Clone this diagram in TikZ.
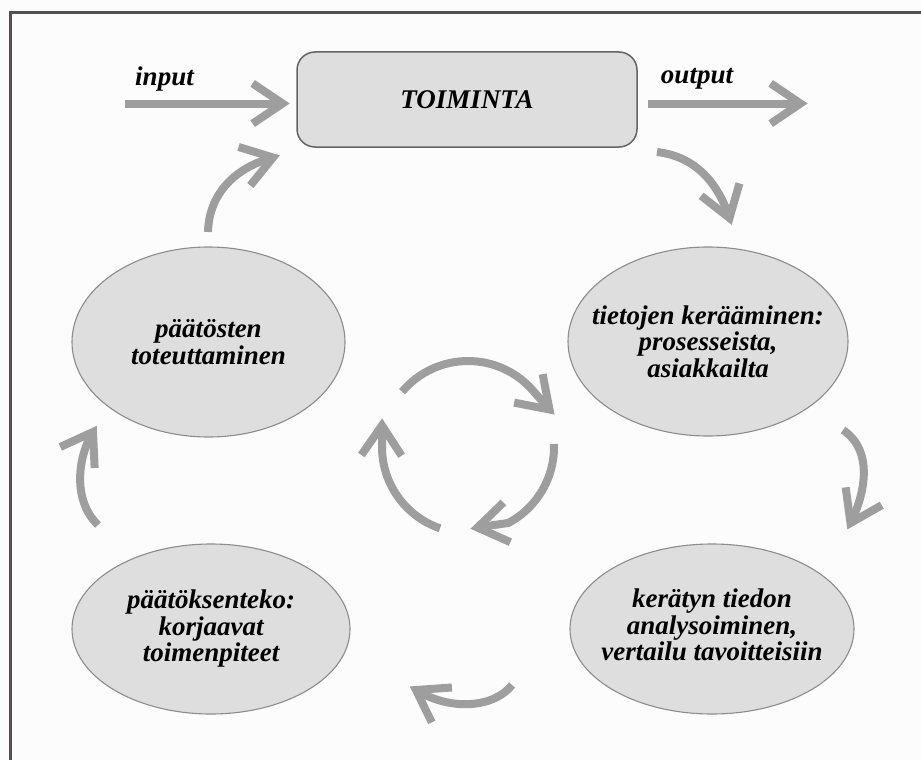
\documentclass[tikz,border=0pt]{standalone}
\usepackage{fontspec}
\setmainfont{Liberation Serif}
\usetikzlibrary{shapes.geometric,calc}
\definecolor{pagebg}{RGB}{252,252,252}
\definecolor{arrowgray}{RGB}{158,158,158}
\definecolor{shapefill}{RGB}{222,222,222}
\definecolor{shapeline}{RGB}{140,140,140}
\definecolor{boxline}{RGB}{100,100,100}
\definecolor{framecol}{RGB}{88,78,82}

\begin{document}
\begin{tikzpicture}[x=1pt,y=1pt,
  labeltext/.style={font=\fontsize{27}{26.5}\selectfont\bfseries\itshape, align=center, inner sep=0pt},
  phase/.style={ellipse, draw=shapeline, line width=1.1pt, fill=shapefill, inner sep=0pt},
  activity/.style={rectangle, rounded corners=18pt, draw=boxline, line width=1.5pt, fill=shapefill,
    minimum width=340pt, minimum height=95pt, inner sep=0pt},
  shaft/.style={draw=arrowgray, line width=8pt},
  barb/.pic={\draw[arrowgray, line width=8pt, miter limit=10] (146:36) -- (0,0) -- (214:36);}
]
% canvas and frame
\useasboundingbox (0,0) rectangle (921,-760);
\fill[pagebg] (0,0) rectangle (921,-760);
\draw[framecol, line width=3pt] (10,-760) -- (10,-13) -- (921,-13);

% main activity box
\node[activity] (act) at (467,-99.5) {};
\node[labeltext] (actText) at (act.center) {TOIMINTA};

% the four phases
\node[phase, minimum width=273pt, minimum height=190pt] (impl) at (208.5,-342) {};
\node[phase, minimum width=280pt, minimum height=189pt] (collect) at (708,-341.5) {};
\node[phase, minimum width=278pt, minimum height=170pt] (decide) at (211,-629) {};
\node[phase, minimum width=284pt, minimum height=170pt] (analyse) at (712,-629) {};

\node[labeltext] (implText) at (impl.center) {päätösten\\toteuttaminen};
\node[labeltext] (collectText) at (collect.center) {tietojen kerääminen:\\prosesseista,\\asiakkailta};
\node[labeltext] (decideText) at (decide.center) {päätöksenteko:\\korjaavat\\toimenpiteet};
\node[labeltext] (analyseText) at ([yshift=4pt]analyse.center) {kerätyn tiedon\\analysoiminen,\\vertailu tavoitteisiin};

% input / output labels
\node[labeltext, anchor=base] (inLabel) at (164.5,-85) {input};
\node[labeltext, anchor=base] (outLabel) at (697,-84) {output};

% arrow end points
\coordinate (inS) at (125,-103.5);
\coordinate (inV) at (282.5,-103.5);
\coordinate (outS) at (648,-103.5);
\coordinate (outV) at (800.5,-103.5);
\coordinate (trS) at (657,-152);
\coordinate (trV) at (729.5,-218);
\coordinate (tlS) at (208,-232);
\coordinate (tlV) at (273,-157.5);
\coordinate (lmS) at (98,-525);
\coordinate (lmV) at (93,-432);
\coordinate (rmS) at (843,-430);
\coordinate (rmV) at (850.5,-523);
\coordinate (btS) at (512,-685);
\coordinate (btV) at (416,-690);
\coordinate (C) at (468,-447);
\coordinate (a1V) at (549.5,-409.5);
\coordinate (a2V) at (477.5,-527.5);
\coordinate (a3V) at (382,-425.5);

% input and output
\draw[shaft] (inS) -- (inV);
\pic at (inV) {barb};
\draw[shaft] (outS) -- (outV);
\pic at (outV) {barb};

% outer cycle
\draw[shaft] (trS) .. controls (700,-157) and (720,-189) .. (trV);
\pic[rotate=-72] at (trV) {barb};
\draw[shaft] (rmS) .. controls (873,-450) and (866,-492) .. (rmV);
\pic[rotate=-116.3] at (rmV) {barb};
\draw[shaft] (btS) .. controls (495,-707) and (452,-712) .. (btV);
\pic[rotate=150] at (btV) {barb};
\draw[shaft] (lmS) .. controls (72,-500) and (78,-456) .. (lmV);
\pic[rotate=58.6] at (lmV) {barb};
\draw[shaft] (tlS) .. controls (209,-190) and (240,-166) .. (tlV);
\pic[rotate=17] at (tlV) {barb};

% inner circular arrows
\draw[shaft] ($(C)+(140:86)$) arc[start angle=140, end angle=42, radius=86] -- (a1V);
\pic[rotate=-45] at (a1V) {barb};
\draw[shaft] ($(C)+(2:86)$) arc[start angle=2, end angle=-62, radius=86] -- (a2V);
\pic[rotate=190] at (a2V) {barb};
\draw[shaft] ($(C)+(251:86)$) arc[start angle=251, end angle=176, radius=86] -- (a3V);
\pic[rotate=89] at (a3V) {barb};
\end{tikzpicture}
\end{document}
